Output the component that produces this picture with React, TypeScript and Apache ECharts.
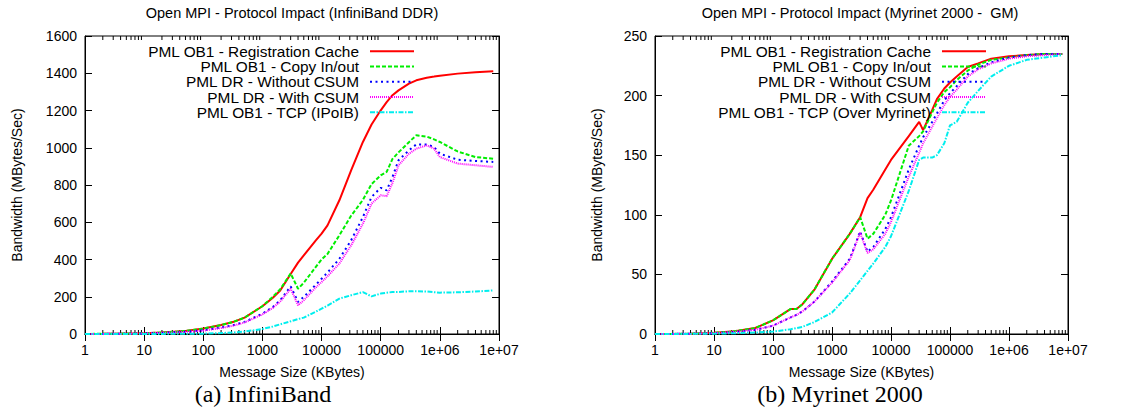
import React, { useEffect, useRef } from "react";
import * as echarts from "echarts";

// ---------- tick labels ----------
const xTickLabels = ["1", "10", "100", "1000", "10000", "100000", "1e+06", "1e+07"];
const minorMultipliers = [2, 3, 4, 5, 6, 7, 8, 9];
const decades = [1, 10, 100, 1000, 10000, 100000, 1000000];

// ---------- names ----------
const namesIB = [
  "PML OB1 - Registration Cache",
  "PML OB1 - Copy In/out",
  "PML DR - Without CSUM",
  "PML DR - With CSUM",
  "PML OB1 - TCP (IPoIB)",
];
const namesMY = [
  "PML OB1 - Registration Cache",
  "PML OB1 - Copy In/out",
  "PML DR - Without CSUM",
  "PML DR - With CSUM",
  "PML OB1 - TCP (Over Myrinet)",
];

// ---------- InfiniBand DDR data ----------
const ibSizes = [1, 2, 4, 10, 20, 50, 100, 200, 316, 500, 1000, 1500, 2000, 3000, 4000, 5000, 8000, 10000, 12600, 20000, 31600, 50000, 70000, 100000, 126000, 158000, 200000, 300000, 400000, 600000, 800000, 1000000, 2000000, 4000000, 8000000];
const ibRegCache = [0.5, 1, 2, 4, 8, 16, 29, 48, 64, 88, 149, 195, 234, 322, 383, 422, 503, 539, 583, 718, 879, 1031, 1125, 1201, 1245, 1282, 1308, 1344, 1362, 1376, 1382, 1387, 1398, 1405, 1411];
const ibCopy = [0.5, 1, 2, 4, 8, 16, 29, 48, 64, 88, 150, 200, 240, 325, 243, 275, 360, 400, 430, 530, 635, 720, 805, 852, 870, 940, 975, 1030, 1067, 1060, 1045, 1031, 980, 950, 941];
const ibDrNoCsum = [0.3, 0.6, 1.2, 3, 6, 12, 20, 35, 47, 65, 109, 145, 181, 256, 172, 199, 265, 297, 330, 404, 503, 628, 736, 785, 771, 843, 933, 986, 1018, 1018, 1004, 968, 936, 929, 924];
const ibDrCsum = [0.3, 0.6, 1.2, 3, 6, 11, 18, 32, 44, 62, 105, 140, 175, 243, 154, 181, 250, 279, 310, 378, 476, 592, 700, 745, 740, 811, 906, 968, 995, 1013, 995, 950, 915, 906, 897];
const ibTcp = [0, 0, 0.1, 0.3, 0.6, 1.2, 2, 5, 8, 13, 27, 40, 52, 68, 80, 88, 120, 136, 152, 190, 208, 225, 202, 217, 222, 225, 226, 229, 230, 228, 224, 222, 224, 228, 234];

// ---------- Myrinet 2000 GM data ----------
const mySizes = [1, 2, 4, 10, 20, 50, 100, 200, 250, 316, 500, 1000, 2000, 3000, 4000, 5000, 8000, 10000, 20000, 30000, 35000, 50000, 60000, 80000, 100000, 130000, 200000, 300000, 500000, 1000000, 2000000, 4000000, 8000000];
const myRegCache = [0, 0.1, 0.3, 1, 2, 5, 11.5, 21, 21, 25, 37, 63, 84, 98, 114, 121, 138, 146, 166, 178, 171, 188, 197, 206, 211, 216, 224, 227, 231, 233, 234, 235, 235];
const myCopy = [0, 0.1, 0.3, 1, 2, 5, 11.5, 21, 21, 25, 37, 63, 84, 98, 80, 84, 100, 112, 158, 166, 170, 186, 194, 203, 207, 213, 221, 226, 230, 232, 234, 235, 235];
const myDrNoCsum = [0, 0.1, 0.2, 0.7, 1.5, 3.5, 7, 14, 16, 19, 27, 44, 63, 86, 69, 73, 88, 98, 138, 158, 165, 178, 185, 196, 202, 208, 218, 223, 228, 232, 234, 235, 235];
const myDrCsum = [0, 0.1, 0.2, 0.7, 1.5, 3.5, 7, 14, 16, 19, 27, 43, 62, 85, 68, 71, 84, 94, 132, 152, 160, 174, 181, 192, 199, 205, 216, 222, 227, 231, 233, 234, 235];
const myTcp = [0, 0, 0.1, 0.3, 0.6, 1.2, 2, 4, 5, 6, 10, 18, 34, 45, 53, 59, 73, 82, 120, 146, 148, 148, 150, 160, 175, 178, 194, 204, 216, 225, 230, 232, 234];

const FONT = '"Liberation Sans", Arial, Helvetica, sans-serif';
const SERIF = '"Liberation Serif", "Times New Roman", serif';

const lineStyles = [
  { color: "#ff0000", width: 2, type: "solid" as any },
  { color: "#00ee00", width: 2, type: [4, 2] as any },
  { color: "#0000ff", width: 2, type: [2, 3.5] as any },
  { color: "#ff00ff", width: 2, type: [1, 1] as any },
  { color: "#00eeee", width: 2, type: [5, 1.5, 1.5, 1.5] as any },
];

function zip(xs: number[], ys: number[]) {
  return xs.map((x, i) => [x, ys[i]]);
}

const minorTicks: number[] = [];
decades.forEach((d) => minorMultipliers.forEach((m) => minorTicks.push(m * d)));

function xAxes(gridIndex: number) {
  const base = {
    gridIndex,
    type: "log" as const,
    logBase: 10,
    min: 1,
    max: 10000000,
    splitNumber: 7,
    splitLine: { show: false },
    axisLine: { lineStyle: { color: "#000", width: 1 } },
    axisTick: { inside: true, length: 7, lineStyle: { color: "#000" } },
  };
  return [
    {
      ...base,
      position: "bottom",
      name: "Message Size (KBytes)",
      nameLocation: "middle",
      nameGap: 31,
      nameTextStyle: { fontFamily: FONT, fontSize: 14, color: "#000" },
      axisLabel: {
        fontFamily: FONT,
        fontSize: 14,
        color: "#000",
        margin: 9,
        formatter: (v: number) => xTickLabels[Math.round(Math.log10(v))] ?? "",
      },
    },
    { ...base, position: "top", axisLabel: { show: false } },
  ];
}

function yAxes(gridIndex: number, max: number, interval: number, nameGap: number) {
  const base = {
    gridIndex,
    type: "value" as const,
    min: 0,
    max,
    interval,
    splitLine: { show: false },
    axisLine: { show: true, lineStyle: { color: "#000", width: 1 } },
    axisTick: { show: true, inside: true, length: 7, lineStyle: { color: "#000" } },
  };
  return [
    {
      ...base,
      position: "left",
      name: "Bandwidth (MBytes/Sec)",
      nameLocation: "middle",
      nameGap,
      nameTextStyle: { fontFamily: FONT, fontSize: 14, color: "#000" },
      axisLabel: { fontFamily: FONT, fontSize: 14, color: "#000", margin: 8, formatter: (v: number) => String(v) },
    },
    { ...base, position: "right", axisLabel: { show: false } },
  ];
}

function minorTickSeries(xAxisIndex: number, yAxisIndex: number) {
  return {
    type: "custom",
    xAxisIndex,
    yAxisIndex,
    silent: true,
    clip: false,
    data: minorTicks.map((v) => [v, 0]),
    renderItem: (params: any, api: any) => {
      const cs = params.coordSys;
      const px = api.coord([api.value(0), 0])[0];
      const yb = cs.y + cs.height;
      const yt = cs.y;
      return {
        type: "group",
        children: [
          { type: "line", shape: { x1: px, y1: yb, x2: px, y2: yb - 4 }, style: { stroke: "#000", lineWidth: 1 } },
          { type: "line", shape: { x1: px, y1: yt, x2: px, y2: yt + 4 }, style: { stroke: "#000", lineWidth: 1 } },
        ],
      };
    },
  };
}

function lineSeries(name: string, data: number[][], idx: number, xAxisIndex: number, yAxisIndex: number) {
  return {
    type: "line",
    name,
    xAxisIndex,
    yAxisIndex,
    data,
    symbol: "none",
    showSymbol: false,
    lineStyle: lineStyles[idx],
    itemStyle: { color: lineStyles[idx].color },
    z: 2 + idx,
  };
}

function legend(names: string[], rightEdge: number) {
  return {
    data: names,
    orient: "vertical",
    align: "right",
    right: 1145 - rightEdge,
    top: 43.5,
    padding: 0,
    itemWidth: 44,
    itemHeight: 12,
    itemGap: 0,
    selectedMode: false,
    lineStyle: { width: 2 },
    itemStyle: { opacity: 0, color: "rgba(0,0,0,0)", borderColor: "rgba(0,0,0,0)", borderWidth: 0 },
    textStyle: { fontFamily: FONT, fontSize: 15.4, lineHeight: 15.3, color: "#000", padding: [0, 6, 0, 0] },
  };
}

export default function App() {
  const ref = useRef<HTMLDivElement>(null);
  useEffect(() => {
    if (!ref.current) return;
    const chart = echarts.init(ref.current, undefined, { renderer: "svg" });
    const ibData = [ibRegCache, ibCopy, ibDrNoCsum, ibDrCsum, ibTcp];
    const myData = [myRegCache, myCopy, myDrNoCsum, myDrCsum, myTcp];
    const option: any = {
      animation: false,
      backgroundColor: "#fff",
      grid: [
        { left: 85, top: 36, width: 414, height: 298, show: true, borderColor: "#000", borderWidth: 1, backgroundColor: "transparent" },
        { left: 655, top: 36, width: 413, height: 298, show: true, borderColor: "#000", borderWidth: 1, backgroundColor: "transparent" },
      ],
      xAxis: [...xAxes(0), ...xAxes(1)],
      yAxis: [...yAxes(0, 1600, 200, 61), ...yAxes(1, 250, 50, 51)],
      legend: [legend(namesIB, 415), legend(namesMY, 987)],
      graphic: [
        { type: "text", x: 292, y: 13, style: { text: "Open MPI - Protocol Impact (InfiniBand DDR)", font: `14.5px ${FONT}`, fill: "#000", align: "center", verticalAlign: "middle" } },
        { type: "text", x: 860, y: 13, style: { text: "Open MPI - Protocol Impact (Myrinet 2000 -  GM)", font: `14.5px ${FONT}`, fill: "#000", align: "center", verticalAlign: "middle" } },
        { type: "text", x: 263, y: 394, style: { text: "(a) InfiniBand", font: `24px ${SERIF}`, fill: "#000", align: "center", verticalAlign: "middle" } },
        { type: "text", x: 840, y: 394, style: { text: "(b) Myrinet 2000", font: `24px ${SERIF}`, fill: "#000", align: "center", verticalAlign: "middle" } },
      ],
      series: [
        ...namesIB.map((n, i) => lineSeries(n, zip(ibSizes, ibData[i]), i, 0, 0)),
        ...namesMY.map((n, i) => lineSeries(n, zip(mySizes, myData[i]), i, 2, 2)),
        minorTickSeries(0, 0),
        minorTickSeries(2, 2),
      ],
    };
    chart.setOption(option);
    return () => chart.dispose();
  }, []);
  return <div ref={ref} style={{ position: "absolute", left: 0, top: 0, width: "1145px", height: "412px" }} />;
}
